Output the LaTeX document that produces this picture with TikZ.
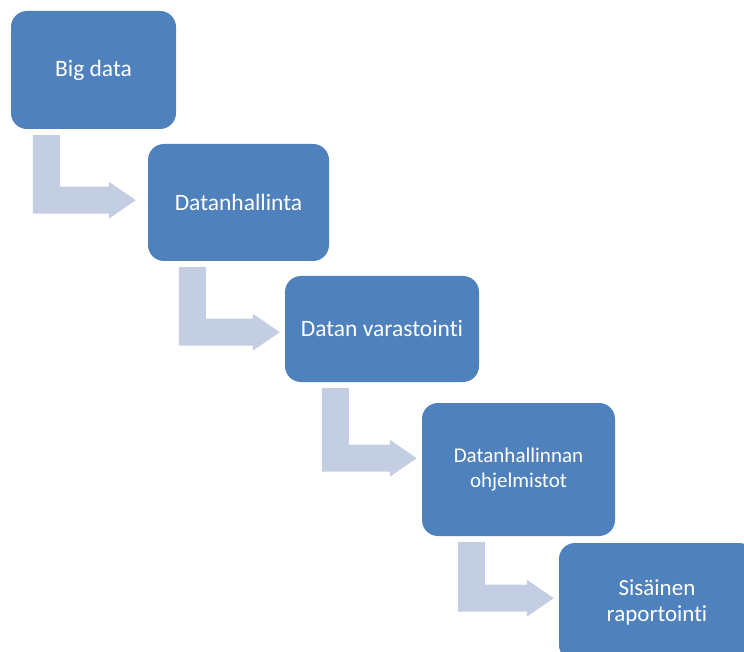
\documentclass[tikz,border=0pt]{standalone}
\usepackage{fontspec}
\setmainfont{Carlito}[Ligatures=NoCommon]
\usetikzlibrary{calc}
\definecolor{step-blue}{HTML}{4F81BD}
\definecolor{arrow-blue}{HTML}{C4CEE3}

\begin{document}
\begin{tikzpicture}[x=1pt, y=-1pt,
    every node/.style={font=\fontsize{23.5}{28}\selectfont},
    stepbox/.style={fill=step-blue, text=white, rounded corners=16pt,
      align=center, inner sep=0pt},
    bendarrow/.style={fill=arrow-blue}]
  \useasboundingbox (0,0) rectangle (744,652);
  \clip (0,0) rectangle (744,652);
  \node[stepbox, minimum width=165pt, minimum height=118pt]
    (big) at (93.5,70) {Big data};
  \node[stepbox, minimum width=181pt, minimum height=117pt]
    (mgmt) at (238.5,202.5) {Datanhallinta};
  \node[stepbox, minimum width=194pt, minimum height=106pt]
    (store) at (382,329) {Datan varastointi};
  \node[stepbox, minimum width=193pt, minimum height=133pt,
    font=\fontsize{21}{24.5}\selectfont]
    (soft) at (518.5,469.5) {Datanhallinnan\\ohjelmistot};
  \node[stepbox, minimum width=196pt, minimum height=118pt,
    font=\fontsize{23}{26}\selectfont]
    (report) at (657,602) {Sisäinen\\raportointi};
  % bent arrows between the steps
  \foreach \a/\b/\off/\drop/\gap in
      {big/mgmt/22/71/12, mgmt/store/31/71/5, store/soft/37/76/5, soft/report/36/62/5}
    \fill[bendarrow] let \p1=(\a.south west), \p2=(\b.west) in
      (\x1+\off pt, \y1-6pt) -- (\x1+\off pt+27pt, \y1-6pt)
      -- (\x1+\off pt+27pt, \y1-\drop pt+13.5pt)
      -- (\x2-\gap pt-27pt, \y1-\drop pt+13.5pt)
      -- (\x2-\gap pt-27pt, \y1-\drop pt+18.5pt)
      -- (\x2-\gap pt, \y1-\drop pt)
      -- (\x2-\gap pt-27pt, \y1-\drop pt-18.5pt)
      -- (\x2-\gap pt-27pt, \y1-\drop pt-13.5pt)
      -- (\x1+\off pt, \y1-\drop pt-13.5pt) -- cycle;
\end{tikzpicture}
\end{document}
